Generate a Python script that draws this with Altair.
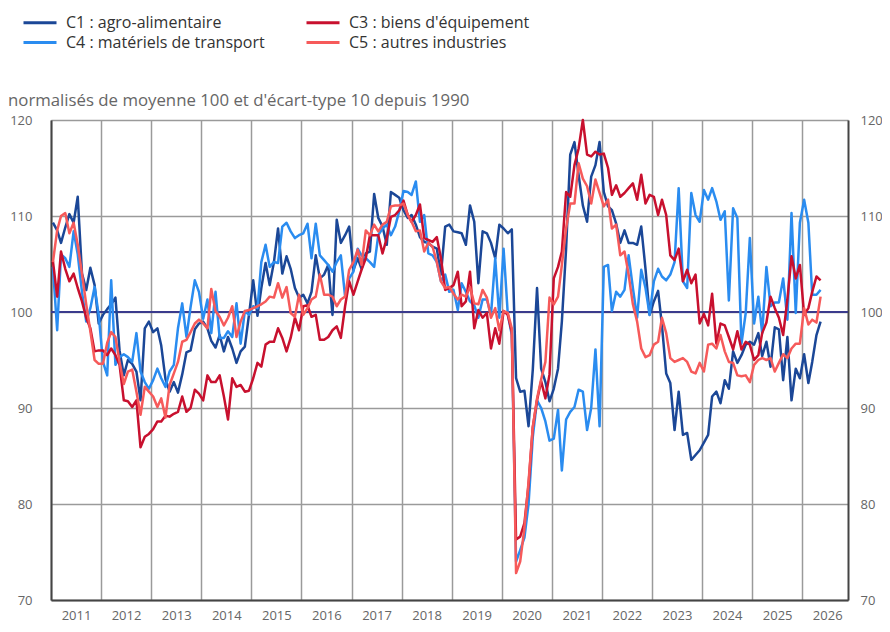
import altair as alt
import pandas as pd

# ---- data (monthly, Jan 2011 - May 2026) ----
start = "2011-01-01"
n_months = 185

# legend domain order (column-major fill gives C1/C3 on row 1, C4/C5 on row 2)
names = ["C1 : agro-alimentaire", "C4 : matériels de transport",
         "C3 : biens d'équipement", "C5 : autres industries"]
colors = ["#1b4797", "#2a8cf0", "#c8102e", "#f65a5a"]
subtitle = "normalisés de moyenne 100 et d'écart-type 10 depuis 1990"

c1 = [109.3, 108.5, 107.2, 108.8, 110.2, 109.3, 112.0, 104.0, 102.3, 104.6, 102.8, 98.8,
      99.7, 100.3, 100.8, 101.5, 96.0, 93.4, 95.0, 94.6, 93.8, 90.8, 98.3, 99.0,
      97.9, 98.3, 96.5, 93.0, 91.7, 92.7, 91.6, 93.5, 95.8, 96.0, 98.2, 98.8,
      99.0, 98.3, 97.0, 96.3, 97.6, 95.9, 97.4, 96.2, 94.7, 95.9, 96.4, 99.7,
      103.3, 99.6, 102.5, 105.1, 102.8, 105.2, 108.7, 104.0, 105.8, 104.5, 102.5, 101.5,
      101.8, 100.9, 102.1, 105.9, 103.5, 103.9, 104.9, 99.7, 109.6, 107.2, 108.0, 108.9,
      104.4, 105.6, 104.5, 106.1, 106.3, 112.3, 109.8, 108.9, 107.0, 112.5, 112.2, 111.9,
      110.6, 109.8, 110.1, 109.1, 107.8, 107.3, 107.2, 106.8, 106.6, 103.9, 108.9, 109.1,
      108.4, 108.3, 108.2, 107.0, 111.1, 109.4, 103.0, 108.4, 108.2, 107.2, 105.6, 109.1,
      108.7, 108.2, 108.6, 93.1, 91.7, 91.8, 88.1, 94.0, 102.5, 94.1, 92.7, 90.7,
      92.0, 94.1, 99.0, 106.6, 116.4, 117.7, 114.3, 111.1, 109.4, 114.1, 115.3, 117.7,
      112.5, 111.0, 110.6, 109.2, 107.2, 108.5, 107.2, 107.2, 107.0, 108.9, 104.5, 99.7,
      101.1, 102.2, 98.6, 93.6, 92.6, 87.7, 91.7, 87.2, 87.4, 84.6, 85.1, 85.6,
      86.4, 87.2, 91.2, 91.7, 90.5, 92.9, 92.0, 95.9, 94.7, 95.5, 96.6, 96.9,
      96.6, 97.8, 95.4, 96.9, 94.3, 98.4, 98.2, 92.9, 97.4, 90.8, 94.1, 93.1,
      95.6, 92.6, 94.8, 97.6, 99.0]

c4 = [104.7, 98.1, 106.0, 105.6, 104.7, 108.4, 106.0, 102.1, 99.0, 100.4, 102.6, 99.7,
      94.8, 93.4, 103.3, 94.5, 95.3, 95.6, 95.3, 94.8, 97.8, 93.8, 92.7, 92.0,
      92.9, 94.1, 93.1, 92.2, 93.8, 94.5, 98.3, 100.9, 97.4, 100.5, 103.3, 102.1,
      99.3, 101.3, 97.8, 102.1, 97.3, 97.3, 98.0, 97.4, 100.9, 96.7, 100.1, 99.7,
      100.6, 100.4, 105.2, 107.0, 104.7, 105.2, 105.1, 108.9, 109.3, 108.4, 107.7, 108.0,
      108.2, 109.2, 105.6, 109.2, 105.9, 105.4, 104.9, 104.2, 105.2, 105.9, 101.6, 103.5,
      104.2, 106.6, 105.9, 105.6, 105.2, 104.7, 108.0, 108.7, 109.1, 108.0, 108.9, 110.5,
      112.6, 112.5, 112.2, 113.6, 109.4, 110.1, 106.1, 105.9, 105.2, 103.2, 103.9, 102.1,
      102.3, 100.2, 103.0, 102.1, 101.1, 100.7, 99.4, 101.3, 101.3, 99.7, 105.6, 99.4,
      106.6, 99.7, 97.6, 74.0, 75.2, 76.5, 80.0, 87.0, 90.8, 90.0, 88.6, 86.6,
      86.8, 89.8, 83.5, 88.8, 89.6, 90.1, 91.9, 91.7, 87.7, 90.0, 96.1, 88.1,
      104.7, 104.9, 100.1, 102.1, 101.6, 102.3, 105.9, 102.5, 99.4, 104.4, 102.5, 99.7,
      103.2, 104.5, 103.7, 103.3, 103.9, 105.2, 112.9, 103.2, 102.5, 112.4, 110.1, 109.4,
      112.7, 111.7, 112.9, 111.5, 109.6, 110.5, 101.2, 110.8, 109.8, 96.7, 99.9, 107.7,
      98.8, 101.6, 97.8, 104.7, 100.6, 101.0, 101.0, 103.5, 99.2, 110.3, 99.9, 109.3,
      111.7, 109.3, 101.8, 101.8, 102.3]

c3 = [105.3, 101.6, 106.3, 104.5, 103.2, 104.0, 102.5, 101.1, 99.4, 98.3, 95.9, 96.0,
      96.0, 95.5, 96.2, 95.5, 94.5, 90.8, 90.7, 90.1, 90.8, 85.9, 87.0, 87.3,
      87.8, 88.6, 88.6, 89.2, 89.1, 89.4, 89.6, 91.2, 89.6, 90.0, 91.9, 91.5,
      90.8, 93.4, 92.7, 92.7, 93.4, 91.2, 88.8, 93.1, 92.2, 92.4, 91.7, 91.8,
      93.1, 94.7, 94.3, 96.6, 96.9, 96.9, 98.3, 97.3, 95.9, 97.3, 99.4, 98.1,
      100.6, 100.7, 99.5, 99.7, 97.1, 97.1, 97.4, 98.1, 98.5, 97.3, 100.6, 103.2,
      101.8, 103.2, 104.4, 105.6, 108.0, 108.0, 108.0, 106.1, 107.7, 109.9, 110.1, 110.6,
      111.6, 110.1, 109.4, 110.1, 111.2, 107.7, 107.5, 107.3, 107.8, 105.6, 102.3, 102.5,
      102.8, 104.2, 100.6, 101.1, 104.2, 98.3, 100.2, 99.4, 99.9, 96.2, 98.3, 96.7,
      100.1, 99.7, 97.9, 76.3, 76.6, 78.0, 82.0, 88.0, 90.8, 92.8, 91.0, 93.5,
      103.5, 104.7, 106.3, 112.5, 112.0, 115.3, 117.0, 120.0, 116.4, 116.2, 116.7, 116.4,
      116.5, 115.0, 112.2, 113.2, 112.0, 112.4, 112.9, 113.4, 111.7, 114.3, 111.3, 112.2,
      112.0, 110.1, 111.7, 110.1, 105.9, 105.4, 106.6, 103.2, 104.4, 103.0, 103.9, 98.8,
      99.8, 98.6, 101.9, 96.7, 98.8, 98.6, 97.4, 96.1, 98.0, 96.1, 96.9, 96.6,
      95.0, 95.5, 97.8, 98.9, 101.6, 100.4, 99.4, 97.6, 101.3, 105.8, 103.5, 104.9,
      99.7, 100.4, 102.1, 103.7, 103.3]

c5 = [105.2, 108.5, 110.0, 110.3, 108.2, 109.3, 107.0, 104.0, 100.8, 98.0, 95.0, 94.6,
      94.6, 96.8, 97.9, 97.4, 94.8, 92.5, 93.8, 94.0, 91.7, 89.3, 92.2, 91.7,
      91.2, 90.1, 91.0, 89.0, 92.4, 93.6, 94.8, 96.9, 97.1, 97.9, 98.8, 99.2,
      98.8, 98.3, 102.4, 100.1, 99.5, 98.6, 99.4, 100.6, 97.4, 99.0, 100.1, 100.2,
      100.4, 100.6, 100.8, 101.1, 101.6, 101.5, 103.0, 101.5, 102.6, 99.9, 99.5, 101.8,
      99.7, 100.4, 101.3, 101.6, 103.9, 101.8, 101.8, 101.6, 100.6, 101.3, 101.6, 104.4,
      105.2, 106.5, 104.9, 108.5, 108.0, 109.1, 108.4, 109.1, 109.4, 111.0, 111.1, 111.1,
      111.3, 110.1, 109.4, 108.4, 108.5, 106.3, 107.2, 106.8, 105.2, 103.2, 102.5, 102.6,
      101.9, 101.3, 101.8, 101.6, 102.6, 100.9, 100.8, 102.3, 101.5, 99.4, 100.4, 98.1,
      100.1, 99.9, 98.3, 72.8, 74.0, 77.5, 82.3, 88.0, 91.0, 93.0, 94.8, 101.5,
      100.8, 101.6, 104.9, 108.7, 111.3, 111.3, 115.5, 113.9, 113.1, 111.3, 113.8, 112.4,
      111.0, 111.7, 108.7, 109.1, 105.9, 106.3, 103.9, 100.8, 99.0, 96.2, 95.3, 95.5,
      96.6, 96.9, 99.4, 97.8, 95.2, 94.8, 95.0, 95.2, 94.8, 93.8, 93.6, 94.7,
      93.8, 96.6, 96.7, 96.2, 97.6, 95.9, 94.8, 94.7, 93.4, 93.3, 93.4, 92.7,
      94.5, 95.0, 95.2, 95.0, 95.2, 93.8, 94.7, 95.6, 95.2, 96.2, 96.7, 96.7,
      100.4, 98.7, 99.2, 98.9, 101.6]

year_ticks = list(range(2011, 2027))
y_ticks = [70, 80, 90, 100, 110, 120]
ref_value = [100]

# ---- build table (drawing order: C1, C4, C3, C5) ----
dates = pd.date_range(start, periods=n_months, freq="MS") + pd.Timedelta(days=14)
frames = []
for nm, vals in [(names[0], c1), (names[1], c4), (names[2], c3), (names[3], c5)]:
    frames.append(pd.DataFrame({"date": dates, "value": vals, "series": nm}))
df = pd.concat(frames, ignore_index=True)

FONT = "Open Sans"
x_scale = alt.Scale(domain=[alt.DateTime(year=2011, month=1, date=1),
                            alt.DateTime(year=2026, month=12, date=1)])
y_scale = alt.Scale(domain=[70, 120], nice=False, zero=False)

left_axis = alt.Axis(values=y_ticks, grid=True, gridColor="#9a9a9a", gridWidth=1.5,
                     ticks=False, domainColor="#444444", domainWidth=2,
                     labelPadding=19, labelFontSize=13, labelColor="#666666",
                     labelFont=FONT, title=None, orient="left")
right_axis = alt.Axis(values=y_ticks, grid=False, ticks=False,
                      domainColor="#444444", domainWidth=2,
                      labelPadding=12, labelFontSize=13, labelColor="#666666",
                      labelFont=FONT, title=None, orient="right")
x_axis = alt.Axis(values=[alt.DateTime(year=y, month=1, date=1) for y in year_ticks],
                  format="%Y", grid=True, gridColor="#9a9a9a", gridWidth=1.5,
                  ticks=False, domainColor="#444444", domainWidth=2,
                  labelOffset=25, labelFlush=False, labelOverlap=False,
                  labelPadding=9, labelFontSize=13, labelColor="#666666",
                  labelFont=FONT, title=None)

ref = alt.Chart(pd.DataFrame({"y": ref_value})).mark_rule(
    color="#3b3b8c", strokeWidth=2
).encode(y=alt.Y("y:Q", scale=y_scale, axis=left_axis))

lines = alt.Chart(df).mark_line(strokeWidth=2.5, strokeJoin="round").encode(
    x=alt.X("date:T", scale=x_scale, axis=x_axis),
    y=alt.Y("value:Q", scale=y_scale, axis=right_axis),
    color=alt.Color("series:N", scale=alt.Scale(domain=names, range=colors),
                    legend=alt.Legend(title=None, orient="none", legendX=-22.5, legendY=-109,
                                      columns=2, columnPadding=35, padding=0,
                                      symbolType="M-1.65,0H1.65", symbolSize=400,
                                      symbolStrokeWidth=3, symbolFillColor="transparent",
                                      labelFontSize=16,
                                      labelFont=FONT, labelColor="#333333",
                                      labelOffset=14.5, rowPadding=0, labelLimit=400)),
)

sub = alt.Chart(pd.DataFrame({"t": [subtitle]})).mark_text(
    align="left", baseline="alphabetic", fontSize=16.8, font=FONT, color="#666666"
).encode(x=alt.value(-43), y=alt.value(-14), text="t:N")

chart = alt.layer(ref, lines, sub).resolve_axis(y="independent").properties(
    width=797, height=480,
    autosize=alt.AutoSizeParams(type="none"),
    padding={"left": 43, "top": 112, "right": 34, "bottom": 24},
).configure_view(stroke=None).configure(background="white")

chart.save("out.html", embed_options={"renderer": "svg", "actions": False})
